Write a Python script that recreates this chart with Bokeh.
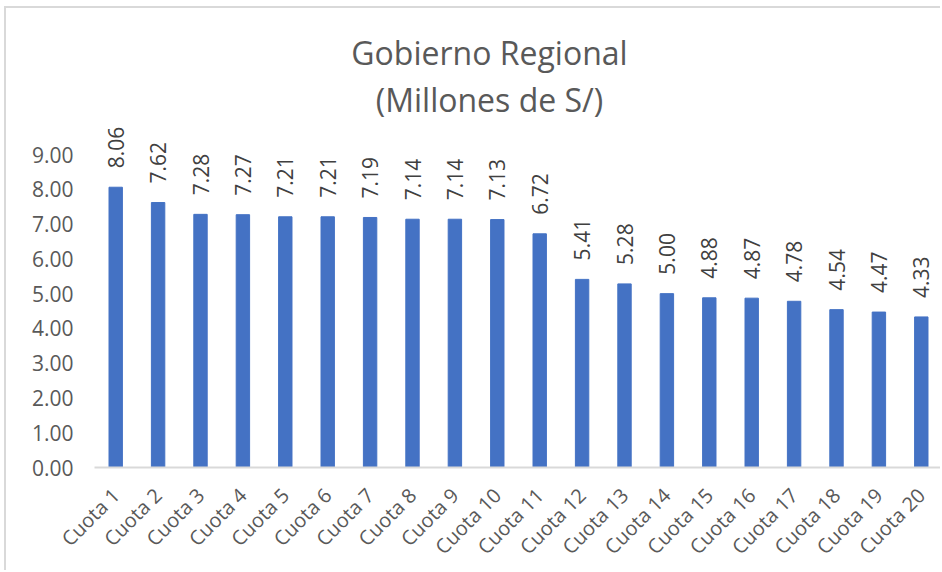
import math
from bokeh.plotting import figure
from bokeh.models import ColumnDataSource, FixedTicker, NumeralTickFormatter, Label, Range1d
from bokeh.core.properties import value
from bokeh.embed import file_html
from bokeh.resources import INLINE

categories = [f"Cuota {i}" for i in range(1, 21)]
values = [8.06, 7.62, 7.28, 7.27, 7.21, 7.21, 7.19, 7.14, 7.14, 7.13,
          6.72, 5.41, 5.28, 5.00, 4.88, 4.87, 4.78, 4.54, 4.47, 4.33]
y_ticks = [0, 1, 2, 3, 4, 5, 6, 7, 8, 9]
title_line1 = "Gobierno Regional"
title_line2 = "(Millones de S/)"

src = ColumnDataSource(dict(cat=categories, val=values,
                            lbl=[f"{v:.2f}" for v in values]))

W, H = 936, 564
p = figure(x_range=categories, y_range=Range1d(0, 13.2), width=W, height=H,
           output_backend="svg", toolbar_location=None,
           min_border_left=88, min_border_right=0, min_border_top=0,
           min_border_bottom=100)
p.styles = {"border-top": "2px solid #d9d9d9", "border-left": "2px solid #d9d9d9",
            "margin-top": "6px", "margin-left": "4px"}
p.outline_line_color = None
p.background_fill_color = "white"
p.border_fill_color = "white"
p.xgrid.grid_line_color = None
p.ygrid.grid_line_color = None
p.x_range.range_padding = 0

p.vbar(x="cat", top="val", width=0.316, source=src,
       fill_color="#4472C4", line_color="#4472C4")

p.text(x="cat", y="val", text="lbl", source=src, angle=math.pi / 2,
       text_align="left", text_baseline="middle", y_offset=-19,
       text_font=value("Open Sans"), text_font_size="21px", text_color="#404040")

# y axis
p.yaxis.ticker = FixedTicker(ticks=y_ticks)
p.yaxis.formatter = NumeralTickFormatter(format="0.00")
p.yaxis.axis_line_color = None
p.yaxis.major_tick_line_color = None
p.yaxis.minor_tick_line_color = None
p.yaxis.major_tick_out = 0
p.yaxis.major_label_standoff = 21
p.yaxis.major_label_text_font = "Open Sans"
p.yaxis.major_label_text_font_size = "21px"
p.yaxis.major_label_text_color = "#595959"

# x axis
p.xaxis.axis_line_color = "#d9d9d9"
p.xaxis.axis_line_width = 2
p.xaxis.major_tick_line_color = None
p.xaxis.minor_tick_line_color = None
p.xaxis.major_tick_out = 0
p.xaxis.major_label_standoff = 24
p.xaxis.major_label_orientation = math.pi / 4
p.xaxis.major_label_text_font = "Open Sans"
p.xaxis.major_label_text_font_size = "20px"
p.xaxis.major_label_text_color = "#595959"

p.add_layout(Label(x=395, y=415, x_units="screen", y_units="screen",
                   text=title_line1, text_align="center", text_baseline="alphabetic",
                   text_font="Open Sans", text_font_size="32px", text_color="#595959"))
p.add_layout(Label(x=395, y=368, x_units="screen", y_units="screen",
                   text=title_line2, text_align="center", text_baseline="alphabetic",
                   text_font="Open Sans", text_font_size="32px", text_color="#595959"))

open("out.html", "w").write(file_html(p, INLINE))
